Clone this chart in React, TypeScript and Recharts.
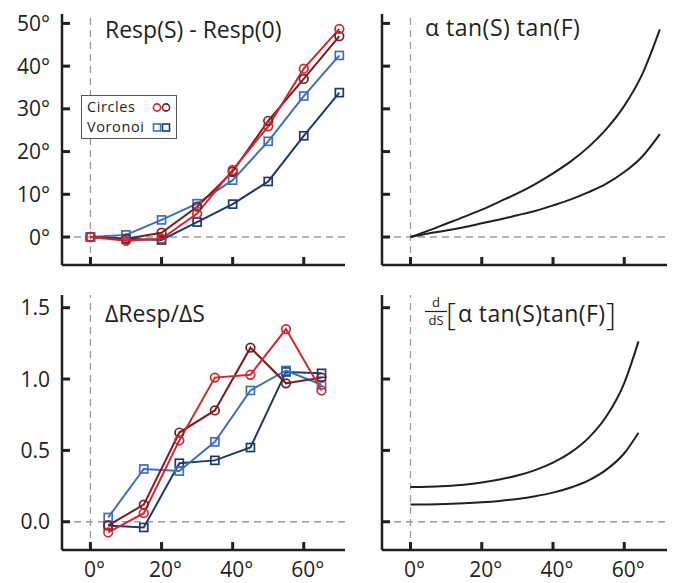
import { LineChart, Line, XAxis, YAxis, ReferenceLine } from "recharts";

// angles (deg) where Resp(S) - Resp(0) was sampled
const respAngles = [0, 10, 20, 30, 40, 50, 60, 70];
const respCirclesLight = [0, -0.9, -0.4, 5.5, 15.7, 25.9, 39.4, 48.7];
const respCirclesDark = [0, -0.4, 1.0, 7.1, 15.3, 27.2, 37.0, 47.0];
const respVoronoiLight = [0, 0.5, 4.0, 7.8, 13.3, 22.4, 33.0, 42.5];
const respVoronoiDark = [0, -0.4, -0.7, 3.5, 7.7, 13.0, 23.7, 33.8];

// finite differences, sampled between the angles above
const slopeAngles = [5, 15, 25, 35, 45, 55, 65];
const slopeCirclesLight = [-0.075, 0.06, 0.57, 1.01, 1.03, 1.35, 0.92];
const slopeCirclesDark = [-0.026, 0.12, 0.625, 0.78, 1.22, 0.97, 1.01];
const slopeVoronoiLight = [0.03, 0.37, 0.355, 0.56, 0.92, 1.06, 0.96];
const slopeVoronoiDark = [-0.026, -0.04, 0.41, 0.43, 0.52, 1.05, 1.04];

// model curves
const modelAngles = [0, 5, 10, 15, 20, 25, 30, 35, 40, 45, 50, 55, 60, 65, 70];
const modelHigh = [0, 1.5, 3.1, 4.7, 6.4, 8.3, 10.2, 12.4, 14.9, 17.7, 21.1, 25.3, 30.7, 38.0, 48.6];
const modelLow = [0, 0.8, 1.5, 2.3, 3.2, 4.1, 5.1, 6.1, 7.4, 8.8, 10.5, 12.5, 15.2, 18.8, 24.1];

const derivAngles = [0, 5, 10, 15, 20, 25, 30, 35, 40, 45, 50, 55, 60, 64];
const derivHigh = [0.243, 0.245, 0.251, 0.26, 0.275, 0.296, 0.324, 0.362, 0.414, 0.486, 0.588, 0.739, 0.972, 1.264];
const derivLow = [0.12, 0.121, 0.124, 0.129, 0.136, 0.146, 0.16, 0.179, 0.204, 0.24, 0.29, 0.365, 0.48, 0.624];

const xTicks = [0, 20, 40, 60];
const degTicks = [0, 10, 20, 30, 40, 50];
const slopeTicks = [0, 0.5, 1.0, 1.5];

const W = 673;
const H = 583;
const X_AXIS_H = 30;
const Y_AXIS_W = 50;
const FONT = "'Open Sans', sans-serif";
const AXIS = "#231f20";
const DASH = "#9c9c9c";
const RED = "#d3262d";
const DARK_RED = "#7a1b20";
const BLUE = "#3c6fc1";
const DARK_BLUE = "#1d3a6d";

const respData = respAngles.map((x, i) => ({
  x,
  cl: respCirclesLight[i],
  cd: respCirclesDark[i],
  vl: respVoronoiLight[i],
  vd: respVoronoiDark[i],
}));
const slopeData = slopeAngles.map((x, i) => ({
  x,
  cl: slopeCirclesLight[i],
  cd: slopeCirclesDark[i],
  vl: slopeVoronoiLight[i],
  vd: slopeVoronoiDark[i],
}));
const modelData = modelAngles.map((x, i) => ({ x, hi: modelHigh[i], lo: modelLow[i] }));
const derivData = derivAngles.map((x, i) => ({ x, hi: derivHigh[i], lo: derivLow[i] }));

function circleDot(color: string) {
  return (p: any) => (
    <circle key={p.index} cx={p.cx} cy={p.cy} r={4.3} fill="none" stroke={color} strokeWidth={1.7} />
  );
}

function squareDot(color: string) {
  return (p: any) => (
    <rect key={p.index} x={p.cx - 4} y={p.cy - 4} width={8} height={8} fill="none" stroke={color} strokeWidth={1.7} />
  );
}

function XTick(p: any) {
  const { x, y, payload, showLabel } = p;
  return (
    <g>
      <line x1={x} x2={x} y1={y} y2={y - 8} stroke={AXIS} strokeWidth={3} />
      {showLabel && (
        <text x={x + 4} y={y + 27} textAnchor="middle" fontFamily={FONT} fontSize={21} fill={AXIS}>
          {`${payload.value}°`}
        </text>
      )}
    </g>
  );
}

function YTick(p: any) {
  const { x, y, payload, format } = p;
  return (
    <g>
      <line x1={x} x2={x + 8} y1={y} y2={y} stroke={AXIS} strokeWidth={3} />
      {format && (
        <text x={x - 12} y={y + 7.5} textAnchor="end" fontFamily={FONT} fontSize={21} fill={AXIS}>
          {format(payload.value)}
        </text>
      )}
    </g>
  );
}

interface PanelProps {
  box: [number, number, number, number]; // plot area left, top, right, bottom in page px
  data: any[];
  xDomain: [number, number];
  yDomain: [number, number];
  yTicks: number[];
  xLabels: boolean;
  yFormat?: (v: number) => string;
  children: React.ReactNode;
}

function Panel({ box, data, xDomain, yDomain, yTicks, xLabels, yFormat, children }: PanelProps) {
  const [l, t, r, b] = box;
  return (
    <div style={{ position: "absolute", left: 0, top: 0 }}>
      <LineChart
        width={W}
        height={H}
        data={data}
        margin={{ left: l - Y_AXIS_W, top: t, right: W - r, bottom: H - b - X_AXIS_H }}
      >
        <XAxis
          dataKey="x"
          type="number"
          domain={xDomain}
          allowDataOverflow
          ticks={xTicks}
          height={X_AXIS_H}
          tickSize={0}
          tickMargin={0}
          tickLine={false}
          axisLine={{ stroke: AXIS, strokeWidth: 2.5 }}
          tick={(p: any) => <XTick {...p} showLabel={xLabels} />}
        />
        <YAxis
          type="number"
          domain={yDomain}
          allowDataOverflow
          ticks={yTicks}
          width={Y_AXIS_W}
          tickSize={0}
          tickMargin={0}
          tickLine={false}
          axisLine={{ stroke: AXIS, strokeWidth: 2.5 }}
          tick={(p: any) => <YTick {...p} format={yFormat} />}
        />
        <ReferenceLine x={0} stroke={DASH} strokeDasharray="7 5" strokeWidth={1.3} />
        <ReferenceLine y={0} stroke={DASH} strokeDasharray="7 5" strokeWidth={1.3} />
        {children}
      </LineChart>
    </div>
  );
}

function dataLines() {
  return [
    <Line key="vd" dataKey="vd" type="linear" stroke={DARK_BLUE} strokeWidth={2} dot={squareDot(DARK_BLUE)} isAnimationActive={false} />,
    <Line key="vl" dataKey="vl" type="linear" stroke={BLUE} strokeWidth={2} dot={squareDot(BLUE)} isAnimationActive={false} />,
    <Line key="cd" dataKey="cd" type="linear" stroke={DARK_RED} strokeWidth={2} dot={circleDot(DARK_RED)} isAnimationActive={false} />,
    <Line key="cl" dataKey="cl" type="linear" stroke={RED} strokeWidth={2} dot={circleDot(RED)} isAnimationActive={false} />,
  ];
}

function modelLines() {
  return [
    <Line key="hi" dataKey="hi" type="monotone" stroke={AXIS} strokeWidth={2} dot={false} isAnimationActive={false} />,
    <Line key="lo" dataKey="lo" type="monotone" stroke={AXIS} strokeWidth={2} dot={false} isAnimationActive={false} />,
  ];
}

export default function App() {
  const titleStyle = { fontFamily: FONT, fontSize: 23, fill: AXIS } as const;
  return (
    <div style={{ position: "absolute", left: 0, top: 0, width: W, height: H, background: "#fff" }}>
      <Panel box={[62, 14, 345, 265]} data={respData} xDomain={[-8, 71.6]} yDomain={[-6.55, 52.2]} yTicks={degTicks} xLabels={false} yFormat={(v) => `${v}°`}>
        {dataLines()}
      </Panel>
      <Panel box={[382, 14, 667, 265]} data={modelData} xDomain={[-8, 72]} yDomain={[-6.55, 52.2]} yTicks={degTicks} xLabels={false}>
        {modelLines()}
      </Panel>
      <Panel box={[62, 295, 345, 550]} data={slopeData} xDomain={[-8, 71.6]} yDomain={[-0.198, 1.589]} yTicks={slopeTicks} xLabels yFormat={(v) => v.toFixed(1)}>
        {dataLines()}
      </Panel>
      <Panel box={[382, 295, 667, 550]} data={derivData} xDomain={[-8, 72]} yDomain={[-0.198, 1.589]} yTicks={slopeTicks} xLabels>
        {modelLines()}
      </Panel>

      <svg width={W} height={H} style={{ position: "absolute", left: 0, top: 0, pointerEvents: "none" }}>
        <text x={105} y={38} {...titleStyle}>Resp(S) - Resp(0)</text>
        <text x={425} y={36} {...titleStyle} letterSpacing={0.5}>α tan(S) tan(F)</text>
        <text x={105} y={322} {...titleStyle}>ΔResp/ΔS</text>

        <text x={436} y={307} textAnchor="middle" fontFamily={FONT} fontSize={13} fill={AXIS}>d</text>
        <line x1={425} x2={447} y1={311.5} y2={311.5} stroke={AXIS} strokeWidth={1.2} />
        <text x={436} y={325} textAnchor="middle" fontFamily={FONT} fontSize={13} fill={AXIS}>dS</text>
        <text x={446} y={325} fontFamily={FONT} fontSize={31} fontWeight={300} fill={AXIS}>[</text>
        <text x={458} y={322} {...titleStyle} letterSpacing={0.4}>α tan(S)tan(F)</text>
        <text x={606} y={325} fontFamily={FONT} fontSize={31} fontWeight={300} fill={AXIS}>]</text>

        <rect x={81.5} y={95.5} width={95} height={43} fill="#fff" stroke="#555" strokeWidth={1} />
        <text x={87} y={112} fontFamily={FONT} fontSize={14.5} letterSpacing={0.6} fill={AXIS}>Circles</text>
        <text x={87} y={132} fontFamily={FONT} fontSize={14.5} letterSpacing={0.6} fill={AXIS}>Voronoi</text>
        <circle cx={157} cy={107.5} r={3.6} fill="none" stroke={RED} strokeWidth={1.6} />
        <circle cx={166} cy={107.5} r={3.6} fill="none" stroke={DARK_RED} strokeWidth={1.6} />
        <rect x={153.5} y={124} width={7} height={7} fill="none" stroke={BLUE} strokeWidth={1.6} />
        <rect x={162.5} y={124} width={7} height={7} fill="none" stroke={DARK_BLUE} strokeWidth={1.6} />
      </svg>
    </div>
  );
}
